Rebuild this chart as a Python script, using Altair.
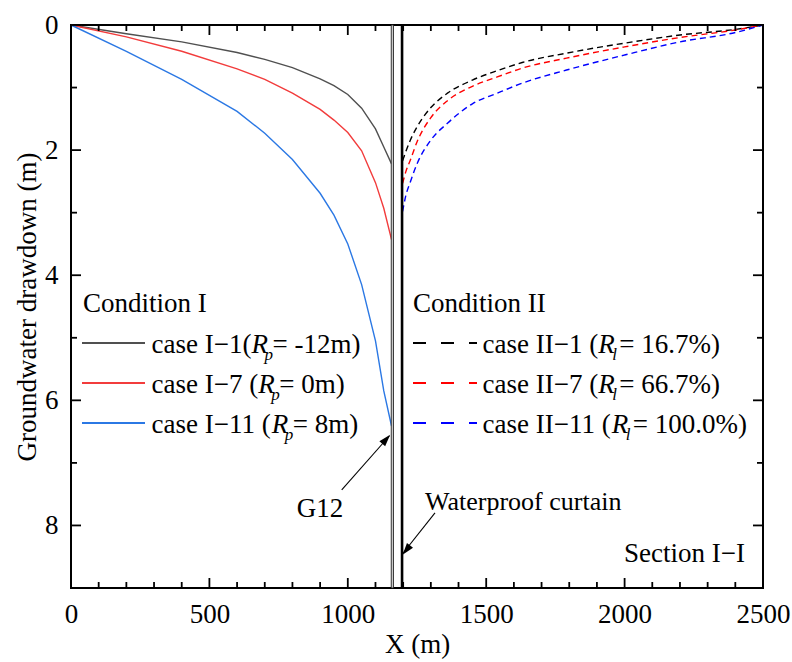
import altair as alt
import pandas as pd

FONT = "Liberation Serif"
FS = 27

# ---------------- data ----------------
x_I = [0, 200, 400, 600, 700, 800, 900, 950, 1000, 1050, 1100, 1130, 1158]
case_I_1 = [0, 0.14, 0.27, 0.44, 0.55, 0.68, 0.86, 0.97, 1.11, 1.33, 1.66, 1.95, 2.22]
case_I_7 = [0, 0.19, 0.42, 0.70, 0.87, 1.09, 1.35, 1.52, 1.72, 2.01, 2.52, 2.93, 3.43]
case_I_11 = [0, 0.42, 0.87, 1.38, 1.73, 2.15, 2.69, 3.04, 3.50, 4.15, 5.05, 5.85, 6.41]

x_II = [1198, 1210, 1225, 1250, 1300, 1360, 1450, 1540, 1630, 1790, 2000, 2200, 2400, 2500]
case_II_1 = [2.17, 2.02, 1.85, 1.63, 1.32, 1.09, 0.88, 0.73, 0.60, 0.45, 0.29, 0.16, 0.07, 0.0]
case_II_7 = [2.53, 2.34, 2.17, 1.87, 1.48, 1.21, 0.98, 0.83, 0.69, 0.53, 0.35, 0.20, 0.08, 0.0]
case_II_11 = [2.98, 2.72, 2.52, 2.22, 1.84, 1.57, 1.26, 1.09, 0.93, 0.72, 0.48, 0.27, 0.12, 0.0]

solid_names = ["case I-1", "case I-7", "case I-11"]
solid_colors = ["#505050", "#f23c3c", "#2b78e4"]
dashed_names = ["case II-1", "case II-7", "case II-11"]
dashed_colors = ["#000000", "#ff0000", "#0000ff"]

x_major = [0, 500, 1000, 1500, 2000, 2500]
x_minor = [v for v in range(100, 2500, 100) if v % 500 != 0]
y_major = [0, 2, 4, 6, 8]
y_minor = [1, 3, 5, 7]

g12_wall = [1157, 1165]
curtain_x = 1196

legend_I_pre = ["case I\u22121(", "case I\u22127 (", "case I\u221211 ("]
legend_I_post = ["= -12m)", "= 0m)", "= 8m)"]
legend_II_pre = ["case II\u22121 (", "case II\u22127 (", "case II\u221211 ("]
legend_II_post = ["= 16.7%)", "= 66.7%)", "= 100.0%)"]

W, H = 692, 563

# ---------------- tables ----------------
rows = []
for name, yv_list in zip(solid_names, [case_I_1, case_I_7, case_I_11]):
    for xv, yv in zip(x_I, yv_list):
        rows.append({"x": xv, "y": yv, "case": name})
solid_df = pd.DataFrame(rows)
rows = []
for name, yv_list in zip(dashed_names, [case_II_1, case_II_7, case_II_11]):
    for xv, yv in zip(x_II, yv_list):
        rows.append({"x": xv, "y": yv, "case": name})
dashed_df = pd.DataFrame(rows)

xs = alt.Scale(domain=[0, 2500], nice=False, zero=False)
ys = alt.Scale(domain=[0, 9], reverse=True, nice=False, zero=False)
AX = alt.Axis(values=x_major, title="X (m)", labelPadding=13, titlePadding=4, format="d")
AY = alt.Axis(values=y_major, title="Groundwater drawdown (m)", labelPadding=13, titlePadding=3, format="d")


def X(field):
    return alt.X(field, type="quantitative", scale=xs, axis=AX)


def Y(field):
    return alt.Y(field, type="quantitative", scale=ys, axis=AY)


solid = alt.Chart(solid_df).mark_line(strokeWidth=1.4, interpolate="linear").encode(
    x=X("x"), y=Y("y"),
    color=alt.Color("case:N", scale=alt.Scale(domain=solid_names, range=solid_colors), legend=None),
    detail="case:N",
)
dashed = alt.Chart(dashed_df).mark_line(strokeWidth=1.4, strokeDash=[6, 4], interpolate="monotone").encode(
    x=X("x"), y=Y("y"),
    stroke=alt.Stroke("case:N", scale=alt.Scale(domain=dashed_names, range=dashed_colors), legend=None),
    detail="case:N",
)

wall = alt.Chart(pd.DataFrame({"x": [g12_wall[0]], "x2": [g12_wall[1]], "y": [0], "y2": [9]})).mark_rect(
    fill="#cfcfcf", stroke="#222222", strokeWidth=0.9).encode(
    x=X("x"), x2="x2:Q", y=Y("y"), y2="y2:Q")
curtain = alt.Chart(pd.DataFrame({"x": [curtain_x], "y": [0], "y2": [9]})).mark_rule(
    color="black", strokeWidth=2.6).encode(
    x=X("x"), y=Y("y"), y2="y2:Q")

# inward ticks
tick_layers = []
for vals, ln in [(x_major, 10), (x_minor, 6)]:
    d = pd.DataFrame({"x": vals})
    for y0, y1 in [(H, H - ln), (0, ln)]:
        tick_layers.append(alt.Chart(d).mark_rule(color="black", strokeWidth=1.8).encode(
            x=X("x"), y=alt.value(y0), y2=alt.value(y1)))
for vals, ln in [(y_major, 10), (y_minor, 6)]:
    d = pd.DataFrame({"y": vals})
    for x0, x1 in [(0, ln), (W, W - ln)]:
        tick_layers.append(alt.Chart(d).mark_rule(color="black", strokeWidth=1.8).encode(
            y=Y("y"), x=alt.value(x0), x2=alt.value(x1)))

# annotations in data coordinates
ann_text = pd.DataFrame({
    "x": [900, 1279, 2435],
    "y": [7.86, 7.75, 8.58],
    "t": ["G12", "Waterproof curtain", "Section I\u2212I"],
    "size": [27, 26, 27],
    "align": ["center", "left", "right"],
})
ann_layers = []
for _, r in ann_text.iterrows():
    ann_layers.append(alt.Chart(pd.DataFrame([r])).mark_text(
        font=FONT, fontSize=int(r["size"]), align=r["align"], baseline="alphabetic", color="black").encode(
        x=X("x"), y=Y("y"), text="t:N"))

arrows = pd.DataFrame({"x": [978, 1315], "y": [7.43, 7.80], "x2": [1150, 1200], "y2": [6.57, 8.44],
                       "hx": [1153, 1198], "hy": [6.55, 8.47], "ang": [41, 218]})
arrow_lines = alt.Chart(arrows).mark_rule(color="black", strokeWidth=1.1).encode(
    x=X("x"), x2="x2:Q", y=Y("y"), y2="y2:Q")
arrow_heads = alt.Chart(arrows).mark_point(
    shape="M0,0L-0.32,1L0.32,1Z", filled=True, size=576, color="black", opacity=1, strokeWidth=0).encode(
    x=X("hx"), y=Y("hy"),
    angle=alt.Angle("ang:Q", scale=None))

# legend (decoration, in pixel positions)
WID = {" ": 250, "(": 333, ")": 333, "-": 333, "=": 564, "\u2212": 564, "%": 833, ".": 250,
       "a": 444, "c": 444, "e": 444, "s": 389, "m": 778, "I": 333}
for dch in "0123456789":
    WID[dch] = 500


def tw(s, size=FS):
    return sum(WID.get(ch, 500) for ch in s) * size / 1000.0


def txt(s, x, y, size=FS, italic=False, align="left"):
    return alt.Chart(pd.DataFrame({"t": [s]})).mark_text(
        font=FONT, fontSize=size, fontStyle="italic" if italic else "normal",
        align=align, baseline="alphabetic", color="black").encode(
        x=alt.value(x), y=alt.value(y), text="t:N")


def sample(x0, x1, y, color, dash=None):
    kw = dict(color=color, strokeWidth=2)
    if dash:
        kw["strokeDash"] = dash
    return alt.Chart(pd.DataFrame({"a": [0]})).mark_rule(**kw).encode(
        x=alt.value(x0), x2=alt.value(x1), y=alt.value(y))


legend_layers = [txt("Condition I", 12, 287), txt("Condition II", 342, 287)]
row_base = [328, 368, 408]
for i in range(3):
    yb = row_base[i]
    legend_layers.append(sample(11, 74, yb - 10, solid_colors[i]))
    legend_layers.append(sample(342, 406, yb - 10, dashed_colors[i], [13, 15]))
    for x0, pre, sub, post, off in [(80.5, legend_I_pre[i], "p", legend_I_post[i], 13),
                                    (411.5, legend_II_pre[i], "l", legend_II_post[i], 14)]:
        rx = x0 + tw(pre)
        legend_layers.append(txt(pre, x0, yb))
        legend_layers.append(txt("R", rx, yb, italic=True))
        legend_layers.append(txt(sub, rx + off, yb + 7, size=17, italic=True))
        legend_layers.append(txt(post, rx + 21, yb))

chart = alt.layer(
    solid, dashed, wall, curtain, *tick_layers, *ann_layers, arrow_lines, arrow_heads, *legend_layers
).properties(
    width=W, height=H,
    autosize=alt.AutoSizeParams(type="none"),
    padding={"left": 71, "top": 25, "right": 29, "bottom": 74},
).configure_view(
    stroke="black", strokeWidth=2
).configure_axis(
    labelFont=FONT, titleFont=FONT, labelFontSize=FS, titleFontSize=FS,
    labelColor="black", titleColor="black", titleFontWeight="normal",
    grid=False, ticks=False, domain=False, labelFlush=False,
)

chart.save("out.html", embed_options={"renderer": "svg", "actions": False})
